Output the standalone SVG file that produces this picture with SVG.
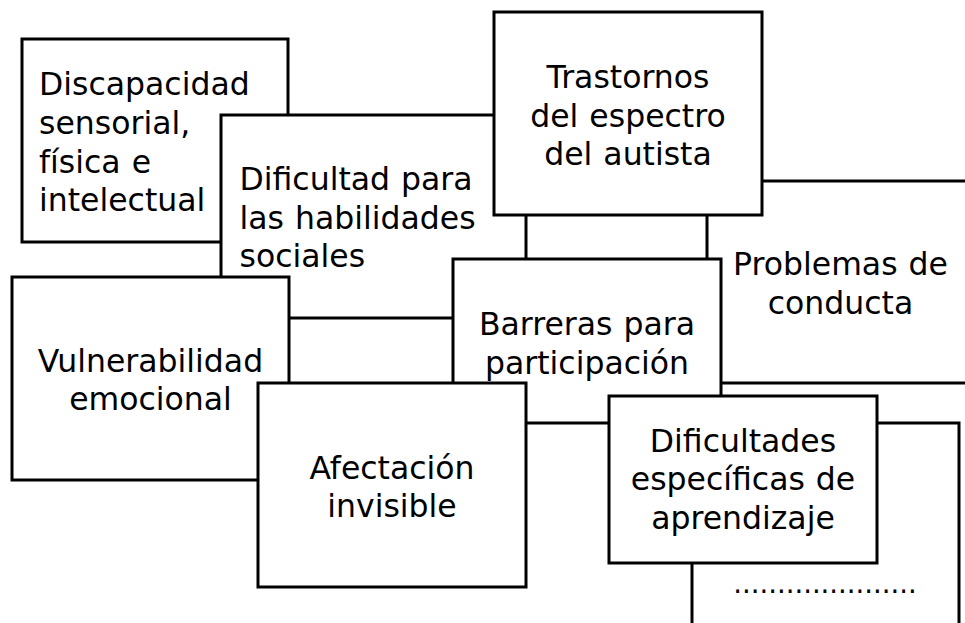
<svg xmlns="http://www.w3.org/2000/svg" width="965" height="623" viewBox="0 0 965 623">
<style>
rect.box { fill: #ffffff; stroke: #000000; stroke-width: 3; }
text { font-family: "DejaVu Sans", Verdana, sans-serif; font-size: 31.5px; word-spacing: 1px; fill: #000000; }
text.c { text-anchor: middle; }
</style>
<rect x="0" y="0" width="965" height="623" fill="#ffffff"/>
<g id="connectors"></g>
<g id="problemas">
  <rect class="box" x="707" y="181" width="268" height="202"/>
  <text class="c" x="840.5"><tspan x="840.5" y="275">Problemas de</tspan><tspan x="840.5" y="314">conducta</tspan></text>
</g>
<g id="otros">
  <rect class="box" x="692" y="423" width="267" height="220"/>
  <text class="c" x="825" y="593" style="font-size:27.5px">.....................</text>
</g>
<g id="discapacidad">
  <rect class="box" x="22" y="39" width="266" height="203"/>
  <text><tspan x="39" y="95">Discapacidad</tspan><tspan x="39" y="133.5">sensorial,</tspan><tspan x="39" y="172.5">física e</tspan><tspan x="39" y="211">intelectual</tspan></text>
</g>
<g id="dificultad-habilidades">
  <rect class="box" x="221" y="115" width="305" height="203"/>
  <text><tspan x="239.5" y="190">Dificultad para</tspan><tspan x="239.5" y="228.5">las habilidades</tspan><tspan x="239.5" y="267">sociales</tspan></text>
</g>
<g id="vulnerabilidad">
  <rect class="box" x="12" y="277" width="277" height="203"/>
  <text class="c"><tspan x="150.5" y="372">Vulnerabilidad</tspan><tspan x="150.5" y="410">emocional</tspan></text>
</g>
<g id="trastornos">
  <rect class="box" x="494" y="12" width="268" height="203"/>
  <text class="c"><tspan x="628" y="88">Trastornos</tspan><tspan x="628" y="126.5">del espectro</tspan><tspan x="628" y="165">del autista</tspan></text>
</g>
<g id="barreras">
  <rect class="box" x="453" y="259" width="268" height="164"/>
  <text class="c"><tspan x="587" y="335">Barreras para</tspan><tspan x="587" y="373.5">participación</tspan></text>
</g>
<g id="afectacion">
  <rect class="box" x="258" y="383" width="268" height="204"/>
  <text class="c"><tspan x="392" y="478.5">Afectación</tspan><tspan x="392" y="517">invisible</tspan></text>
</g>
<g id="dificultades-aprendizaje">
  <rect class="box" x="609" y="396" width="268" height="167"/>
  <text class="c"><tspan x="743" y="452">Dificultades</tspan><tspan x="743" y="490">específicas de</tspan><tspan x="743" y="528.5">aprendizaje</tspan></text>
</g>
</svg>
